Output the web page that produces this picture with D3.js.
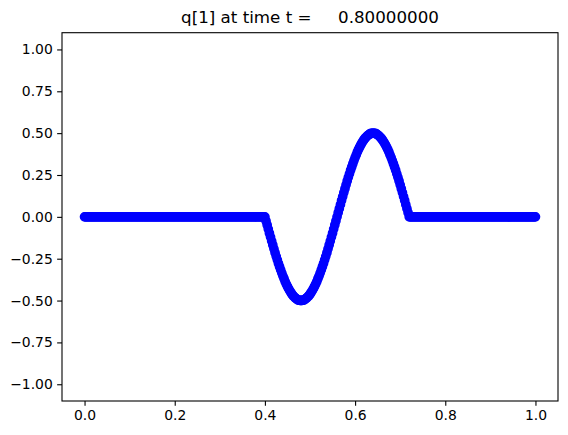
<!DOCTYPE html>
<html>
<head>
<meta charset="utf-8">
<script src="https://cdn.jsdelivr.net/npm/d3@7"></script>
<style>
  html, body {
    margin: 0;
    padding: 0;
    background: #fff;
  }
  svg {
    display: block;
    font-family: "DejaVu Sans", sans-serif;
  }
</style>
</head>
<body>
<div id="chart"></div>
<script>
// grid: 401 nodes from 0 to 1
var xStart = 0.0;
var xStep = 0.0025;

// q[1] values, one per grid node
var qValues = [
  // x = 0 .. 0.3975 : flat
  0, 0, 0, 0, 0, 0, 0, 0, 0, 0, 0, 0, 0, 0, 0, 0, 0, 0, 0, 0,
  0, 0, 0, 0, 0, 0, 0, 0, 0, 0, 0, 0, 0, 0, 0, 0, 0, 0, 0, 0,
  0, 0, 0, 0, 0, 0, 0, 0, 0, 0, 0, 0, 0, 0, 0, 0, 0, 0, 0, 0,
  0, 0, 0, 0, 0, 0, 0, 0, 0, 0, 0, 0, 0, 0, 0, 0, 0, 0, 0, 0,
  0, 0, 0, 0, 0, 0, 0, 0, 0, 0, 0, 0, 0, 0, 0, 0, 0, 0, 0, 0,
  0, 0, 0, 0, 0, 0, 0, 0, 0, 0, 0, 0, 0, 0, 0, 0, 0, 0, 0, 0,
  0, 0, 0, 0, 0, 0, 0, 0, 0, 0, 0, 0, 0, 0, 0, 0, 0, 0, 0, 0,
  0, 0, 0, 0, 0, 0, 0, 0, 0, 0, 0, 0, 0, 0, 0, 0, 0, 0, 0, 0,
  // x = 0.40 .. 0.72 : the wave
  0, -0.025, -0.049, -0.073, -0.098, -0.121, -0.145, -0.168, -0.191, -0.214,
  -0.236, -0.257, -0.278, -0.298, -0.317, -0.336, -0.354, -0.370, -0.387, -0.402,
  -0.416, -0.429, -0.441, -0.452, -0.462, -0.471, -0.478, -0.485, -0.490, -0.495,
  -0.498, -0.499, -0.500,
  -0.499, -0.498, -0.495, -0.490, -0.485, -0.478, -0.471, -0.462, -0.452, -0.441,
  -0.429, -0.416, -0.402, -0.387, -0.370, -0.354, -0.336, -0.317, -0.298, -0.278,
  -0.257, -0.236, -0.214, -0.191, -0.168, -0.145, -0.121, -0.098, -0.073, -0.049,
  -0.025, 0,
  0.025, 0.049, 0.073, 0.098, 0.121, 0.145, 0.168, 0.191, 0.214, 0.236,
  0.257, 0.278, 0.298, 0.317, 0.336, 0.354, 0.370, 0.387, 0.402, 0.416,
  0.429, 0.441, 0.452, 0.462, 0.471, 0.478, 0.485, 0.490, 0.495, 0.498,
  0.499, 0.500,
  0.499, 0.498, 0.495, 0.490, 0.485, 0.478, 0.471, 0.462, 0.452, 0.441,
  0.429, 0.416, 0.402, 0.387, 0.370, 0.354, 0.336, 0.317, 0.298, 0.278,
  0.257, 0.236, 0.214, 0.191, 0.168, 0.145, 0.121, 0.098, 0.073, 0.049,
  0.025, 0,
  // x = 0.7225 .. 1 : flat
  0, 0, 0, 0, 0, 0, 0, 0, 0, 0, 0, 0, 0, 0, 0, 0, 0, 0, 0, 0,
  0, 0, 0, 0, 0, 0, 0, 0, 0, 0, 0, 0, 0, 0, 0, 0, 0, 0, 0, 0,
  0, 0, 0, 0, 0, 0, 0, 0, 0, 0, 0, 0, 0, 0, 0, 0, 0, 0, 0, 0,
  0, 0, 0, 0, 0, 0, 0, 0, 0, 0, 0, 0, 0, 0, 0, 0, 0, 0, 0, 0,
  0, 0, 0, 0, 0, 0, 0, 0, 0, 0, 0, 0, 0, 0, 0, 0, 0, 0, 0, 0,
  0, 0, 0, 0, 0, 0, 0, 0, 0, 0, 0, 0
];

var xTicks = [0.0, 0.2, 0.4, 0.6, 0.8, 1.0];
var yTicks = [1.0, 0.75, 0.5, 0.25, 0.0, -0.25, -0.5, -0.75, -1.0];
var titleText = "q[1] at time t =     0.80000000";

var width = 568, height = 435;
var margin = {left: 62, right: 10, top: 32.7, bottom: 34};

var svg = d3.select("#chart").append("svg")
    .attr("width", width)
    .attr("height", height);

svg.append("rect")
    .attr("width", width)
    .attr("height", height)
    .attr("fill", "#fff");

var x = d3.scaleLinear()
    .domain([-0.05, 1.05])
    .range([margin.left, width - margin.right]);

var y = d3.scaleLinear()
    .domain([-1.1, 1.1])
    .range([height - margin.bottom, margin.top]);

var points = qValues.map(function(q, i) {
    return {x: xStart + i * xStep, q: q};
});

var fmtX = d3.format(".1f");
var fmtY = function(d) { return d3.format(".2f")(d).replace("-", "\u2212"); };

var xAxis = svg.append("g")
    .attr("transform", "translate(0," + (height - margin.bottom) + ")")
    .call(d3.axisBottom(x).tickValues(xTicks).tickFormat(fmtX)
        .tickSizeInner(4.86).tickSizeOuter(0).tickPadding(4.4));

var yAxis = svg.append("g")
    .attr("transform", "translate(" + margin.left + ",0)")
    .call(d3.axisLeft(y).tickValues(yTicks).tickFormat(fmtY)
        .tickSizeInner(4.86).tickSizeOuter(0).tickPadding(4.4));

[xAxis, yAxis].forEach(function(g) {
    g.select(".domain").remove();
    g.selectAll(".tick line").attr("stroke", "#000").attr("stroke-width", 1.1);
    g.selectAll(".tick text")
        .attr("fill", "#000")
        .attr("font-size", "13.9px")
        .attr("font-family", "DejaVu Sans, sans-serif");
});

// frame
svg.append("rect")
    .attr("x", margin.left)
    .attr("y", margin.top)
    .attr("width", width - margin.right - margin.left)
    .attr("height", height - margin.bottom - margin.top)
    .attr("fill", "none")
    .attr("stroke", "#000")
    .attr("stroke-width", 1.1);

// markers
svg.append("g").selectAll("circle")
    .data(points)
    .enter()
    .append("circle")
    .attr("cx", function(d) { return x(d.x); })
    .attr("cy", function(d) { return y(d.q); })
    .attr("r", 4.17)
    .attr("fill", "#0000ff")
    .attr("stroke", "#0000ff")
    .attr("stroke-width", 1.39);

svg.append("text")
    .attr("x", (margin.left + width - margin.right) / 2)
    .attr("y", 23)
    .attr("text-anchor", "middle")
    .attr("font-size", "16.7px")
    .style("white-space", "pre")
    .attr("xml:space", "preserve")
    .text(titleText);
</script>
</body>
</html>
